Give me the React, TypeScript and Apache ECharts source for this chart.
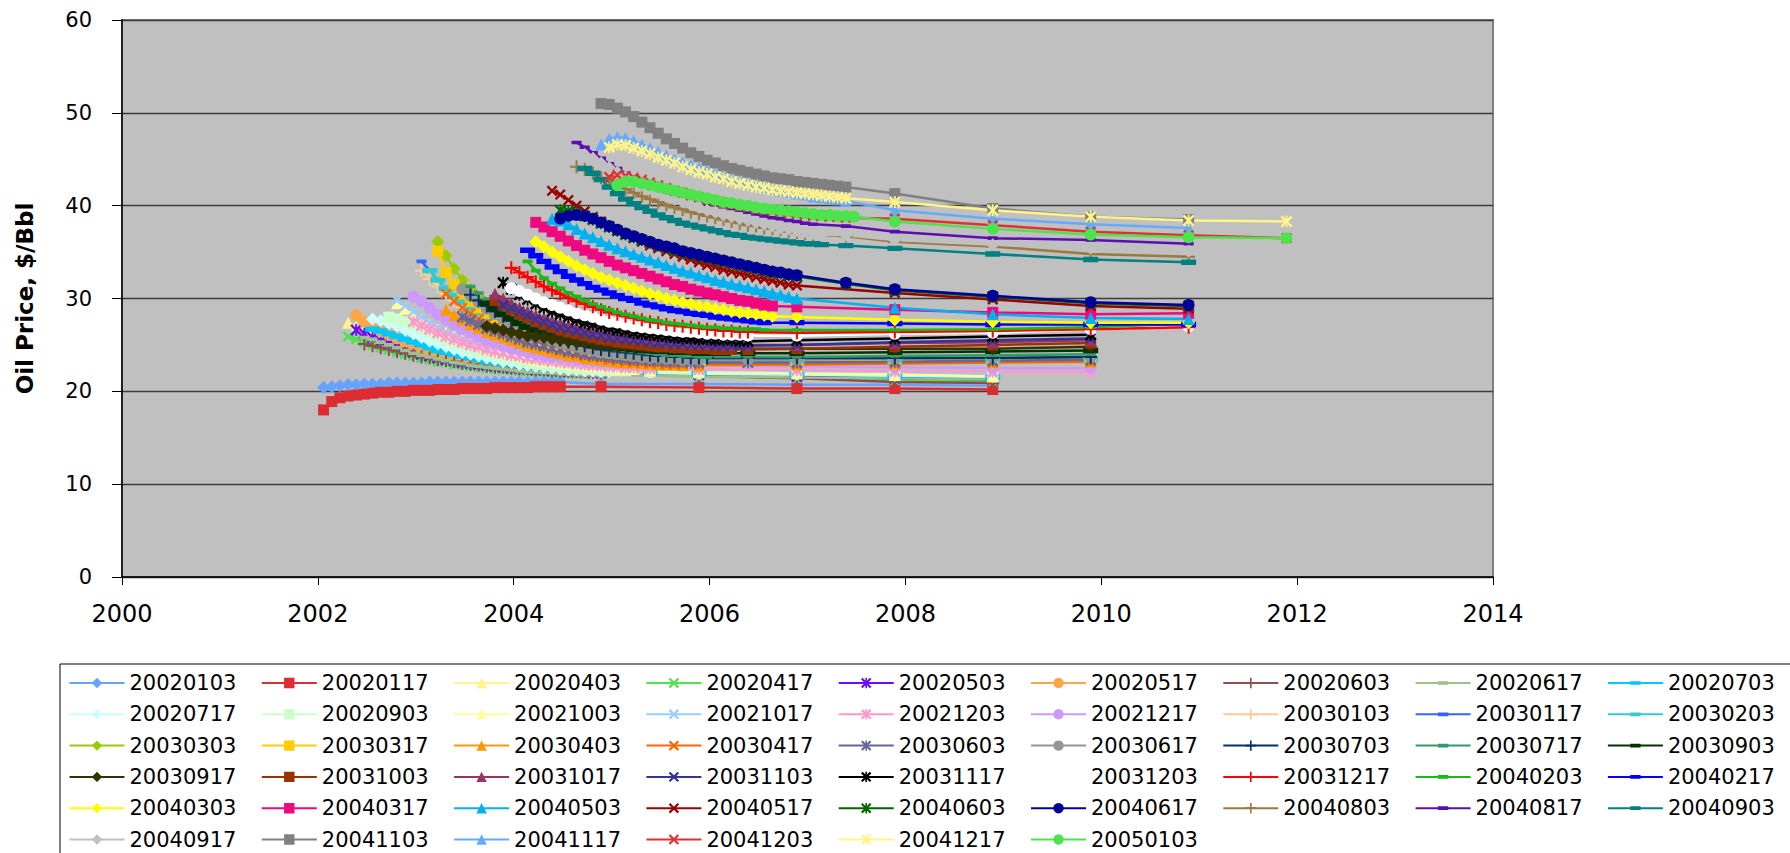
import React, { useEffect, useRef } from "react";
import * as echarts from "echarts";

// Trade dates of each NYMEX crude futures strip (legend order)
const tradeDates = [
  "20020103", "20020117", "20020403", "20020417", "20020503", "20020517", "20020603", "20020617", "20020703",
  "20020717", "20020903", "20021003", "20021017", "20021203", "20021217", "20030103", "20030117", "20030203",
  "20030303", "20030317", "20030403", "20030417", "20030603", "20030617", "20030703", "20030717", "20030903",
  "20030917", "20031003", "20031017", "20031103", "20031117", "20031203", "20031217", "20040203", "20040217",
  "20040303", "20040317", "20040503", "20040517", "20040603", "20040617", "20040803", "20040817", "20040903",
  "20040917", "20041103", "20041117", "20041203", "20041217", "20050103",
];

// 30 consecutive monthly settlements ($/Bbl), starting with the front month after the trade date
const c20020103 = [20.4, 20.5, 20.6, 20.7, 20.7, 20.8, 20.8, 20.8, 20.9, 20.9, 20.9, 20.9, 20.9, 21.0, 21.0, 21.0, 21.0, 21.0, 21.0, 21.0, 21.0, 21.0, 21.0, 21.0, 21.0, 21.0, 21.0, 21.0, 21.0, 21.0];
const c20020117 = [18.0, 18.9, 19.3, 19.5, 19.6, 19.7, 19.8, 19.9, 19.9, 20.0, 20.0, 20.1, 20.1, 20.1, 20.2, 20.2, 20.2, 20.3, 20.3, 20.3, 20.3, 20.4, 20.4, 20.4, 20.4, 20.4, 20.5, 20.5, 20.5, 20.5];
const c20020403 = [27.4, 27.0, 26.6, 26.2, 25.8, 25.5, 25.2, 24.9, 24.6, 24.4, 24.2, 24.0, 23.8, 23.6, 23.5, 23.3, 23.2, 23.1, 23.0, 22.9, 22.8, 22.7, 22.7, 22.6, 22.5, 22.5, 22.4, 22.4, 22.3, 22.3];
const c20020417 = [25.9, 25.6, 25.3, 25.0, 24.7, 24.5, 24.2, 24.0, 23.8, 23.6, 23.4, 23.2, 23.1, 22.9, 22.8, 22.7, 22.6, 22.5, 22.4, 22.3, 22.3, 22.2, 22.1, 22.1, 22.0, 22.0, 21.9, 21.9, 21.9, 21.8];
const c20020503 = [26.6, 26.2, 25.8, 25.4, 25.1, 24.8, 24.5, 24.2, 24.0, 23.8, 23.6, 23.4, 23.3, 23.1, 23.0, 22.9, 22.8, 22.7, 22.6, 22.5, 22.5, 22.4, 22.3, 22.3, 22.2, 22.2, 22.1, 22.1, 22.1, 22.0];
const c20020517 = [28.2, 27.5, 27.0, 26.5, 26.1, 25.7, 25.3, 25.0, 24.7, 24.4, 24.2, 24.0, 23.8, 23.6, 23.4, 23.3, 23.1, 23.0, 22.9, 22.8, 22.7, 22.6, 22.5, 22.5, 22.4, 22.3, 22.3, 22.2, 22.2, 22.2];
const c20020603 = [25.1, 24.9, 24.7, 24.5, 24.3, 24.1, 23.9, 23.7, 23.6, 23.4, 23.3, 23.2, 23.0, 22.9, 22.8, 22.7, 22.6, 22.6, 22.5, 22.4, 22.4, 22.3, 22.3, 22.2, 22.2, 22.2, 22.1, 22.1, 22.1, 22.0];
const c20020617 = [25.8, 25.6, 25.3, 25.0, 24.7, 24.4, 24.1, 23.9, 23.7, 23.5, 23.3, 23.1, 23.0, 22.8, 22.7, 22.6, 22.5, 22.4, 22.3, 22.2, 22.1, 22.1, 22.0, 22.0, 21.9, 21.9, 21.8, 21.8, 21.8, 21.7];
const c20020703 = [26.7, 26.5, 26.2, 25.9, 25.6, 25.3, 25.0, 24.7, 24.4, 24.2, 24.0, 23.8, 23.6, 23.4, 23.2, 23.1, 23.0, 22.9, 22.8, 22.7, 22.6, 22.5, 22.4, 22.4, 22.3, 22.3, 22.2, 22.2, 22.1, 22.1];
const c20020717 = [27.8, 27.6, 27.3, 27.0, 26.6, 26.2, 25.8, 25.4, 25.1, 24.8, 24.5, 24.2, 24.0, 23.8, 23.6, 23.4, 23.2, 23.1, 22.9, 22.8, 22.7, 22.6, 22.5, 22.4, 22.3, 22.3, 22.2, 22.2, 22.1, 22.1];
const c20020903 = [28.0, 27.8, 27.5, 27.1, 26.7, 26.3, 25.9, 25.5, 25.2, 24.9, 24.6, 24.3, 24.1, 23.9, 23.7, 23.5, 23.3, 23.2, 23.0, 22.9, 22.8, 22.7, 22.6, 22.5, 22.4, 22.4, 22.3, 22.3, 22.2, 22.2];
const c20021003 = [29.5, 28.9, 28.3, 27.7, 27.2, 26.7, 26.3, 25.9, 25.5, 25.2, 24.9, 24.6, 24.4, 24.2, 24.0, 23.8, 23.6, 23.4, 23.3, 23.2, 23.1, 23.0, 22.9, 22.8, 22.7, 22.7, 22.6, 22.5, 22.5, 22.4];
const c20021017 = [29.8, 29.2, 28.6, 28.0, 27.4, 26.9, 26.4, 26.0, 25.6, 25.3, 25.0, 24.7, 24.4, 24.2, 24.0, 23.8, 23.6, 23.5, 23.3, 23.2, 23.1, 23.0, 22.9, 22.8, 22.8, 22.7, 22.6, 22.6, 22.5, 22.5];
const c20021203 = [27.5, 27.1, 26.7, 26.3, 25.9, 25.6, 25.3, 25.0, 24.8, 24.5, 24.3, 24.1, 23.9, 23.8, 23.6, 23.5, 23.4, 23.3, 23.2, 23.1, 23.0, 22.9, 22.8, 22.8, 22.7, 22.7, 22.6, 22.6, 22.5, 22.5];
const c20021217 = [30.2, 29.7, 29.0, 28.3, 27.7, 27.2, 26.7, 26.3, 25.9, 25.5, 25.2, 24.9, 24.6, 24.4, 24.2, 24.0, 23.8, 23.7, 23.6, 23.5, 23.4, 23.3, 23.2, 23.1, 23.1, 23.0, 23.0, 22.9, 22.9, 22.8];
const c20030103 = [33.0, 32.1, 31.3, 30.5, 29.8, 29.1, 28.5, 28.0, 27.5, 27.0, 26.6, 26.2, 25.9, 25.6, 25.3, 25.0, 24.7, 24.5, 24.3, 24.1, 23.9, 23.7, 23.6, 23.5, 23.3, 23.2, 23.1, 23.0, 23.0, 22.9];
const c20030117 = [34.0, 33.0, 32.0, 31.1, 30.3, 29.6, 29.0, 28.4, 27.9, 27.4, 27.0, 26.6, 26.2, 25.9, 25.6, 25.3, 25.0, 24.8, 24.6, 24.4, 24.2, 24.0, 23.9, 23.7, 23.6, 23.5, 23.4, 23.3, 23.2, 23.2];
const c20030203 = [33.0, 32.0, 31.1, 30.3, 29.6, 29.0, 28.5, 28.0, 27.5, 27.1, 26.7, 26.4, 26.1, 25.8, 25.5, 25.3, 25.0, 24.8, 24.6, 24.4, 24.2, 24.1, 23.9, 23.8, 23.7, 23.6, 23.5, 23.4, 23.3, 23.3];
const c20030303 = [36.1, 34.6, 33.2, 32.0, 31.0, 30.1, 29.3, 28.6, 28.0, 27.5, 27.0, 26.6, 26.2, 25.9, 25.6, 25.3, 25.0, 24.8, 24.6, 24.4, 24.3, 24.1, 24.0, 23.9, 23.8, 23.7, 23.6, 23.6, 23.5, 23.5];
const c20030317 = [35.1, 32.8, 31.5, 30.5, 29.7, 29.0, 28.4, 27.9, 27.4, 27.0, 26.6, 26.3, 26.0, 25.7, 25.4, 25.2, 25.0, 24.8, 24.6, 24.4, 24.2, 24.1, 24.0, 23.9, 23.8, 23.7, 23.6, 23.6, 23.5, 23.5];
const c20030403 = [28.8, 28.2, 27.7, 27.2, 26.8, 26.4, 26.1, 25.8, 25.5, 25.2, 24.9, 24.7, 24.5, 24.3, 24.1, 23.9, 23.8, 23.6, 23.5, 23.4, 23.3, 23.2, 23.1, 23.1, 23.0, 23.0, 22.9, 22.9, 22.9, 22.8];
const c20030417 = [30.5, 29.7, 29.0, 28.4, 27.8, 27.3, 26.8, 26.4, 26.0, 25.7, 25.4, 25.1, 24.8, 24.6, 24.4, 24.2, 24.0, 23.8, 23.7, 23.6, 23.4, 23.3, 23.2, 23.1, 23.1, 23.0, 23.0, 22.9, 22.9, 22.9];
const c20030603 = [28.0, 27.6, 27.2, 26.8, 26.5, 26.2, 25.9, 25.6, 25.3, 25.1, 24.9, 24.7, 24.5, 24.3, 24.2, 24.0, 23.9, 23.8, 23.7, 23.6, 23.5, 23.4, 23.4, 23.3, 23.3, 23.2, 23.2, 23.2, 23.1, 23.1];
const c20030617 = [31.0, 30.3, 29.6, 28.9, 28.3, 27.8, 27.3, 26.9, 26.5, 26.1, 25.8, 25.5, 25.2, 25.0, 24.8, 24.6, 24.4, 24.2, 24.1, 24.0, 23.9, 23.8, 23.7, 23.6, 23.6, 23.5, 23.5, 23.4, 23.4, 23.4];
const c20030703 = [30.4, 29.8, 29.2, 28.6, 28.1, 27.6, 27.2, 26.8, 26.4, 26.1, 25.8, 25.5, 25.3, 25.1, 24.9, 24.7, 24.5, 24.4, 24.3, 24.2, 24.1, 24.0, 23.9, 23.8, 23.8, 23.7, 23.7, 23.6, 23.6, 23.6];
const c20030717 = [31.3, 30.6, 29.9, 29.2, 28.6, 28.1, 27.6, 27.2, 26.8, 26.5, 26.2, 25.9, 25.6, 25.4, 25.2, 25.0, 24.8, 24.7, 24.5, 24.4, 24.3, 24.2, 24.1, 24.0, 23.9, 23.9, 23.8, 23.8, 23.7, 23.7];
const c20030903 = [29.5, 28.9, 28.3, 27.8, 27.3, 26.9, 26.6, 26.3, 26.0, 25.8, 25.6, 25.4, 25.2, 25.0, 24.9, 24.8, 24.7, 24.6, 24.5, 24.4, 24.4, 24.3, 24.3, 24.2, 24.2, 24.2, 24.1, 24.1, 24.1, 24.1];
const c20030917 = [27.0, 26.8, 26.6, 26.4, 26.2, 26.0, 25.9, 25.8, 25.6, 25.5, 25.4, 25.3, 25.2, 25.1, 25.0, 25.0, 24.9, 24.9, 24.8, 24.8, 24.7, 24.7, 24.7, 24.6, 24.6, 24.6, 24.6, 24.6, 24.6, 24.6];
const c20031003 = [29.8, 29.3, 28.8, 28.3, 27.9, 27.5, 27.2, 26.9, 26.6, 26.4, 26.2, 26.0, 25.8, 25.6, 25.5, 25.3, 25.2, 25.1, 25.0, 24.9, 24.8, 24.8, 24.7, 24.7, 24.6, 24.6, 24.6, 24.5, 24.5, 24.5];
const c20031017 = [30.5, 30.0, 29.5, 29.0, 28.6, 28.2, 27.9, 27.6, 27.3, 27.1, 26.9, 26.7, 26.5, 26.3, 26.2, 26.0, 25.9, 25.8, 25.7, 25.6, 25.5, 25.4, 25.3, 25.3, 25.2, 25.2, 25.1, 25.1, 25.1, 25.0];
const c20031103 = [29.3, 29.0, 28.6, 28.2, 27.8, 27.5, 27.2, 26.9, 26.7, 26.5, 26.3, 26.1, 26.0, 25.8, 25.7, 25.6, 25.5, 25.4, 25.3, 25.2, 25.2, 25.1, 25.1, 25.0, 25.0, 25.0, 24.9, 24.9, 24.9, 24.9];
const c20031117 = [31.7, 31.0, 30.4, 29.9, 29.4, 29.0, 28.6, 28.3, 28.0, 27.7, 27.4, 27.2, 27.0, 26.8, 26.6, 26.5, 26.3, 26.2, 26.1, 26.0, 25.9, 25.8, 25.7, 25.7, 25.6, 25.6, 25.5, 25.5, 25.5, 25.4];
const c20031203 = [31.1, 30.8, 30.4, 30.0, 29.6, 29.3, 29.0, 28.7, 28.4, 28.2, 28.0, 27.7, 27.5, 27.4, 27.2, 27.0, 26.9, 26.8, 26.7, 26.6, 26.5, 26.4, 26.4, 26.3, 26.2, 26.2, 26.1, 26.1, 26.1, 26.0];
const c20031217 = [33.3, 32.8, 32.3, 31.8, 31.3, 30.9, 30.5, 30.1, 29.7, 29.4, 29.1, 28.8, 28.5, 28.3, 28.1, 27.9, 27.7, 27.5, 27.4, 27.2, 27.1, 27.0, 26.9, 26.8, 26.7, 26.6, 26.5, 26.5, 26.4, 26.4];
const c20040203 = [34.0, 33.0, 32.2, 31.6, 31.1, 30.6, 30.2, 29.8, 29.4, 29.1, 28.8, 28.5, 28.3, 28.1, 27.9, 27.7, 27.6, 27.4, 27.3, 27.2, 27.1, 27.0, 26.9, 26.9, 26.8, 26.8, 26.7, 26.7, 26.7, 26.6];
const c20040217 = [35.2, 34.6, 34.0, 33.4, 32.9, 32.4, 32.0, 31.6, 31.2, 30.9, 30.6, 30.3, 30.0, 29.8, 29.5, 29.3, 29.1, 28.9, 28.7, 28.6, 28.4, 28.3, 28.2, 28.0, 27.9, 27.8, 27.7, 27.6, 27.5, 27.4];
const c20040303 = [36.1, 35.6, 35.0, 34.5, 34.0, 33.5, 33.1, 32.7, 32.3, 32.0, 31.7, 31.4, 31.1, 30.8, 30.5, 30.3, 30.0, 29.8, 29.6, 29.4, 29.2, 29.1, 28.9, 28.8, 28.6, 28.5, 28.4, 28.3, 28.2, 28.1];
const c20040317 = [38.2, 37.7, 37.2, 36.7, 36.2, 35.7, 35.2, 34.8, 34.4, 34.0, 33.6, 33.3, 33.0, 32.7, 32.4, 32.1, 31.8, 31.5, 31.3, 31.0, 30.8, 30.6, 30.4, 30.2, 30.0, 29.8, 29.7, 29.5, 29.3, 29.2];
const c20040503 = [38.6, 38.4, 38.0, 37.5, 37.0, 36.6, 36.2, 35.8, 35.4, 35.1, 34.8, 34.5, 34.2, 33.9, 33.6, 33.3, 33.0, 32.8, 32.5, 32.3, 32.0, 31.8, 31.6, 31.4, 31.2, 31.0, 30.8, 30.6, 30.4, 30.2];
const c20040517 = [41.6, 41.2, 40.6, 40.0, 39.4, 38.8, 38.3, 37.8, 37.3, 36.9, 36.5, 36.1, 35.7, 35.4, 35.1, 34.8, 34.5, 34.2, 33.9, 33.6, 33.4, 33.1, 32.9, 32.7, 32.5, 32.3, 32.1, 31.9, 31.7, 31.5];
const c20040603 = [39.5, 39.4, 39.2, 38.9, 38.5, 38.1, 37.7, 37.3, 36.9, 36.6, 36.3, 36.0, 35.7, 35.5, 35.2, 35.0, 34.8, 34.6, 34.4, 34.2, 34.0, 33.8, 33.6, 33.4, 33.2, 33.0, 32.8, 32.7, 32.5, 32.4];
const c20040617 = [38.6, 38.9, 39.0, 38.9, 38.6, 38.2, 37.8, 37.4, 37.0, 36.7, 36.4, 36.1, 35.8, 35.6, 35.4, 35.1, 34.9, 34.7, 34.5, 34.3, 34.1, 33.9, 33.7, 33.5, 33.3, 33.1, 32.9, 32.8, 32.6, 32.5];
const c20040803 = [44.2, 43.9, 43.5, 43.0, 42.6, 42.2, 41.8, 41.4, 41.0, 40.7, 40.4, 40.1, 39.8, 39.6, 39.3, 39.1, 38.9, 38.7, 38.5, 38.3, 38.1, 37.9, 37.8, 37.6, 37.5, 37.4, 37.2, 37.1, 37.0, 36.9];
const c20040817 = [46.8, 46.3, 45.7, 45.1, 44.5, 44.0, 43.5, 43.1, 42.7, 42.3, 42.0, 41.7, 41.4, 41.1, 40.8, 40.6, 40.3, 40.1, 39.9, 39.7, 39.5, 39.3, 39.1, 38.9, 38.7, 38.6, 38.4, 38.3, 38.1, 38.0];
const c20040903 = [44.0, 43.5, 42.8, 42.0, 41.3, 40.7, 40.2, 39.8, 39.4, 39.0, 38.7, 38.4, 38.1, 37.9, 37.7, 37.5, 37.3, 37.1, 36.9, 36.8, 36.6, 36.5, 36.4, 36.3, 36.2, 36.1, 36.0, 35.9, 35.9, 35.8];
const c20040917 = [45.5, 45.1, 44.6, 44.1, 43.6, 43.1, 42.6, 42.2, 41.8, 41.4, 41.0, 40.7, 40.4, 40.1, 39.8, 39.5, 39.3, 39.0, 38.8, 38.6, 38.4, 38.2, 38.0, 37.8, 37.6, 37.5, 37.3, 37.2, 37.0, 36.9];
const c20041103 = [51.0, 50.9, 50.5, 50.1, 49.6, 49.0, 48.4, 47.8, 47.2, 46.7, 46.2, 45.7, 45.3, 44.9, 44.6, 44.3, 44.0, 43.8, 43.6, 43.4, 43.2, 43.0, 42.9, 42.8, 42.6, 42.5, 42.4, 42.3, 42.2, 42.1];
const c20041117 = [46.6, 47.2, 47.4, 47.3, 47.0, 46.6, 46.2, 45.8, 45.4, 45.0, 44.7, 44.4, 44.1, 43.8, 43.5, 43.2, 42.9, 42.7, 42.4, 42.2, 42.0, 41.8, 41.6, 41.5, 41.3, 41.2, 41.0, 40.9, 40.8, 40.7];
const c20041203 = [43.1, 43.3, 43.2, 43.0, 42.8, 42.5, 42.2, 41.9, 41.6, 41.4, 41.1, 40.9, 40.7, 40.5, 40.3, 40.1, 39.9, 39.8, 39.6, 39.5, 39.4, 39.3, 39.2, 39.1, 39.0, 38.9, 38.9, 38.8, 38.8, 38.7];
const c20041217 = [46.3, 46.6, 46.5, 46.2, 45.9, 45.6, 45.2, 44.9, 44.6, 44.2, 43.9, 43.6, 43.4, 43.1, 42.9, 42.6, 42.4, 42.2, 42.0, 41.9, 41.7, 41.6, 41.5, 41.4, 41.3, 41.2, 41.1, 41.0, 40.9, 40.8];
const c20050103 = [42.2, 42.6, 42.6, 42.4, 42.2, 42.0, 41.8, 41.6, 41.4, 41.2, 41.0, 40.8, 40.6, 40.4, 40.3, 40.1, 40.0, 39.8, 39.7, 39.6, 39.5, 39.4, 39.3, 39.2, 39.1, 39.0, 39.0, 38.9, 38.9, 38.8];

// Long-dated June / December contracts: [delivery month, settlement]
type Contract = [string, number];
const d20020103: Contract[] = [["2004-12", 20.8], ["2005-12", 20.8], ["2006-12", 20.7], ["2007-12", 20.7], ["2008-12", 20.6]];
const d20020117: Contract[] = [["2004-12", 20.5], ["2005-12", 20.4], ["2006-12", 20.3], ["2007-12", 20.3], ["2008-12", 20.2]];
const d20020403: Contract[] = [["2004-12", 22.2], ["2005-12", 22.0], ["2006-12", 21.8], ["2007-12", 21.6], ["2008-12", 21.5]];
const d20020417: Contract[] = [["2004-12", 21.8], ["2005-12", 21.6], ["2006-12", 21.4], ["2007-12", 21.2], ["2008-12", 21.1]];
const d20020503: Contract[] = [["2004-12", 22.0], ["2005-12", 21.8], ["2006-12", 21.6], ["2007-12", 21.4], ["2008-12", 21.3]];
const d20020517: Contract[] = [["2004-12", 22.1], ["2005-12", 21.9], ["2006-12", 21.8], ["2007-12", 21.7], ["2008-12", 21.6]];
const d20020603: Contract[] = [["2005-06", 22.0], ["2005-12", 21.7], ["2006-12", 21.4], ["2007-12", 21.0], ["2008-12", 20.9]];
const d20020617: Contract[] = [["2005-06", 21.7], ["2005-12", 21.6], ["2006-12", 21.5], ["2007-12", 21.4], ["2008-12", 21.3]];
const d20020703: Contract[] = [["2005-06", 22.0], ["2005-12", 21.9], ["2006-12", 21.8], ["2007-12", 21.6], ["2008-12", 21.5]];
const d20020717: Contract[] = [["2005-06", 22.0], ["2005-12", 21.9], ["2006-12", 21.8], ["2007-12", 21.7], ["2008-12", 21.6]];
const d20020903: Contract[] = [["2005-06", 22.1], ["2005-12", 22.0], ["2006-12", 21.9], ["2007-12", 21.7], ["2008-12", 21.6]];
const d20021003: Contract[] = [["2005-06", 22.3], ["2005-12", 22.2], ["2006-12", 22.0], ["2007-12", 21.8], ["2008-12", 21.6]];
const d20021017: Contract[] = [["2005-06", 22.4], ["2005-12", 22.3], ["2006-12", 22.2], ["2007-12", 22.1], ["2008-12", 22.0]];
const d20021203: Contract[] = [["2005-12", 22.4], ["2006-12", 22.3], ["2007-12", 22.2], ["2008-12", 22.1], ["2009-12", 22.1]];
const d20021217: Contract[] = [["2005-12", 22.8], ["2006-12", 22.7], ["2007-12", 22.6], ["2008-12", 22.5], ["2009-12", 22.5]];
const d20030103: Contract[] = [["2005-12", 22.9], ["2006-12", 22.9], ["2007-12", 23.0], ["2008-12", 23.1], ["2009-12", 23.2]];
const d20030117: Contract[] = [["2005-12", 23.1], ["2006-12", 23.1], ["2007-12", 23.2], ["2008-12", 23.3], ["2009-12", 23.4]];
const d20030203: Contract[] = [["2005-12", 23.2], ["2006-12", 23.2], ["2007-12", 23.2], ["2008-12", 23.3], ["2009-12", 23.4]];
const d20030303: Contract[] = [["2005-12", 23.5], ["2006-12", 23.5], ["2007-12", 23.5], ["2008-12", 23.6], ["2009-12", 23.7]];
const d20030317: Contract[] = [["2005-12", 23.5], ["2006-12", 23.4], ["2007-12", 23.4], ["2008-12", 23.4], ["2009-12", 23.4]];
const d20030403: Contract[] = [["2005-12", 22.8], ["2006-12", 22.9], ["2007-12", 23.0], ["2008-12", 23.1], ["2009-12", 23.2]];
const d20030417: Contract[] = [["2005-12", 22.9], ["2006-12", 22.9], ["2007-12", 23.0], ["2008-12", 23.1], ["2009-12", 23.2]];
const d20030603: Contract[] = [["2006-06", 23.1], ["2006-12", 23.1], ["2007-12", 23.2], ["2008-12", 23.3], ["2009-12", 23.4]];
const d20030617: Contract[] = [["2006-06", 23.4], ["2006-12", 23.4], ["2007-12", 23.5], ["2008-12", 23.6], ["2009-12", 23.7]];
const d20030703: Contract[] = [["2006-06", 23.6], ["2006-12", 23.6], ["2007-12", 23.6], ["2008-12", 23.6], ["2009-12", 23.7]];
const d20030717: Contract[] = [["2006-06", 23.7], ["2006-12", 23.7], ["2007-12", 23.8], ["2008-12", 23.9], ["2009-12", 24.0]];
const d20030903: Contract[] = [["2006-06", 24.1], ["2006-12", 24.1], ["2007-12", 24.2], ["2008-12", 24.3], ["2009-12", 24.4]];
const d20030917: Contract[] = [["2006-06", 24.6], ["2006-12", 24.6], ["2007-12", 24.6], ["2008-12", 24.6], ["2009-12", 24.8]];
const d20031003: Contract[] = [["2006-06", 24.5], ["2006-12", 24.6], ["2007-12", 24.8], ["2008-12", 25.0], ["2009-12", 25.2]];
const d20031017: Contract[] = [["2006-06", 25.0], ["2006-12", 25.0], ["2007-12", 25.2], ["2008-12", 25.3], ["2009-12", 25.5]];
const d20031103: Contract[] = [["2006-06", 24.9], ["2006-12", 25.0], ["2007-12", 25.3], ["2008-12", 25.5], ["2009-12", 25.7]];
const d20031117: Contract[] = [["2006-06", 25.4], ["2006-12", 25.5], ["2007-12", 25.7], ["2008-12", 25.9], ["2009-12", 26.1]];
const d20031203: Contract[] = [["2006-12", 26.0], ["2007-12", 26.2], ["2008-12", 26.3], ["2009-12", 26.7], ["2010-12", 27.0]];
const d20031217: Contract[] = [["2006-12", 26.3], ["2007-12", 26.4], ["2008-12", 26.5], ["2009-12", 26.7], ["2010-12", 26.9]];
const d20040203: Contract[] = [["2006-12", 26.6], ["2007-12", 26.6], ["2008-12", 26.7], ["2009-12", 26.9], ["2010-12", 27.3]];
const d20040217: Contract[] = [["2006-12", 27.4], ["2007-12", 27.3], ["2008-12", 27.2], ["2009-12", 27.2], ["2010-12", 27.2]];
const d20040303: Contract[] = [["2006-12", 28.0], ["2007-12", 27.7], ["2008-12", 27.5], ["2009-12", 27.4], ["2010-12", 27.4]];
const d20040317: Contract[] = [["2006-12", 29.1], ["2007-12", 28.8], ["2008-12", 28.5], ["2009-12", 28.3], ["2010-12", 28.4]];
const d20040503: Contract[] = [["2006-12", 30.0], ["2007-12", 29.0], ["2008-12", 28.3], ["2009-12", 27.9], ["2010-12", 27.8]];
const d20040517: Contract[] = [["2006-12", 31.4], ["2007-12", 30.6], ["2008-12", 29.9], ["2009-12", 29.2], ["2010-12", 28.9]];
const d20040603: Contract[] = [["2007-06", 31.6], ["2007-12", 30.9], ["2008-12", 30.2], ["2009-12", 29.5], ["2010-12", 29.2]];
const d20040617: Contract[] = [["2007-06", 31.7], ["2007-12", 31.0], ["2008-12", 30.3], ["2009-12", 29.6], ["2010-12", 29.3]];
const d20040803: Contract[] = [["2007-06", 36.7], ["2007-12", 36.1], ["2008-12", 35.6], ["2009-12", 34.8], ["2010-12", 34.5]];
const d20040817: Contract[] = [["2007-06", 37.8], ["2007-12", 37.2], ["2008-12", 36.5], ["2009-12", 36.3], ["2010-12", 35.9]];
const d20040903: Contract[] = [["2007-06", 35.7], ["2007-12", 35.4], ["2008-12", 34.8], ["2009-12", 34.2], ["2010-12", 33.9]];
const d20040917: Contract[] = [["2007-06", 36.8], ["2007-12", 36.3], ["2008-12", 35.8], ["2009-12", 35.4], ["2010-12", 35.1]];
const d20041103: Contract[] = [["2007-06", 42.0], ["2007-12", 41.3], ["2008-12", 39.7], ["2009-12", 38.8], ["2010-12", 38.5]];
const d20041117: Contract[] = [["2007-06", 40.5], ["2007-12", 39.5], ["2008-12", 38.6], ["2009-12", 38.0], ["2010-12", 37.6]];
const d20041203: Contract[] = [["2007-12", 38.6], ["2008-12", 37.9], ["2009-12", 37.2], ["2010-12", 36.8], ["2011-12", 36.5]];
const d20041217: Contract[] = [["2007-12", 40.4], ["2008-12", 39.5], ["2009-12", 38.8], ["2010-12", 38.4], ["2011-12", 38.3]];
const d20050103: Contract[] = [["2007-12", 38.3], ["2008-12", 37.5], ["2009-12", 36.9], ["2010-12", 36.6], ["2011-12", 36.5]];

const monthlyCurves = [
  c20020103, c20020117, c20020403, c20020417, c20020503, c20020517, c20020603, c20020617, c20020703,
  c20020717, c20020903, c20021003, c20021017, c20021203, c20021217, c20030103, c20030117, c20030203,
  c20030303, c20030317, c20030403, c20030417, c20030603, c20030617, c20030703, c20030717, c20030903,
  c20030917, c20031003, c20031017, c20031103, c20031117, c20031203, c20031217, c20040203, c20040217,
  c20040303, c20040317, c20040503, c20040517, c20040603, c20040617, c20040803, c20040817, c20040903,
  c20040917, c20041103, c20041117, c20041203, c20041217, c20050103,
];
const longDated = [
  d20020103, d20020117, d20020403, d20020417, d20020503, d20020517, d20020603, d20020617, d20020703,
  d20020717, d20020903, d20021003, d20021017, d20021203, d20021217, d20030103, d20030117, d20030203,
  d20030303, d20030317, d20030403, d20030417, d20030603, d20030617, d20030703, d20030717, d20030903,
  d20030917, d20031003, d20031017, d20031103, d20031117, d20031203, d20031217, d20040203, d20040217,
  d20040303, d20040317, d20040503, d20040517, d20040603, d20040617, d20040803, d20040817, d20040903,
  d20040917, d20041103, d20041117, d20041203, d20041217, d20050103,
];

const lineColors = [
  "#66A3FF", "#DD2D32", "#FFF38A", "#4DE34D", "#6A0DFF", "#FFA646", "#8C4F4F", "#A0BF8C", "#00C8FF",
  "#CCFFFF", "#CCFFCC", "#FFFF99", "#99CCFF", "#FF99CC", "#CC99FF", "#FFCC99", "#3366FF", "#33CCCC",
  "#99CC00", "#FFCC00", "#FF9900", "#FF6600", "#666699", "#969696", "#003366", "#339966", "#003300",
  "#333300", "#993300", "#993366", "#333399", "#000000", "#FFFFFF", "#FF0000", "#19B919", "#0000FF",
  "#FFFF00", "#F0087F", "#00B0F0", "#990000", "#006600", "#000099", "#997A40", "#5A0FAF", "#008080",
  "#C0C0C0", "#808080", "#66AAFF", "#E03030", "#FFF38A", "#4DE34D",
];

const X_PATH = "path://M0,1.5L1.5,0L5,3.5L8.5,0L10,1.5L6.5,5L10,8.5L8.5,10L5,6.5L1.5,10L0,8.5L3.5,5Z";
const STAR_PATH =
  "path://M0,1.5L1.5,0L5,3.5L8.5,0L10,1.5L6.5,5L10,8.5L8.5,10L5,6.5L1.5,10L0,8.5L3.5,5Z M4.25,0L5.75,0L5.75,10L4.25,10Z";
const PLUS_PATH = "path://M4.2,0L5.8,0L5.8,4.2L10,4.2L10,5.8L5.8,5.8L5.8,10L4.2,10L4.2,5.8L0,5.8L0,4.2L4.2,4.2Z";
// flat bar inside a square box (the empty sub-paths only fix the box)
const DASH_PATH = "path://M0,0L10,0 M0,3.2L10,3.2L10,6.8L0,6.8Z M0,10L10,10";

// Marker cycle: diamond, square, triangle, x, star, circle, plus, short dash, long dash
const markerCycle = [
  { symbol: "diamond", size: 13 },
  { symbol: "rect", size: 11 },
  { symbol: "triangle", size: 12 },
  { symbol: X_PATH, size: 11 },
  { symbol: STAR_PATH, size: 12 },
  { symbol: "circle", size: 12 },
  { symbol: PLUS_PATH, size: 13 },
  { symbol: DASH_PATH, size: 10 },
  { symbol: DASH_PATH, size: 15 },
];

// Position of a delivery month on the year axis (contract expiry, a few weeks before delivery)
const expiryYear = (year: number, month: number) => year + (month - 1.3) / 12;

function curvePoints(i: number): number[][] {
  const trade = tradeDates[i];
  const tradeYear = Number(trade.slice(0, 4));
  const tradeMonth = Number(trade.slice(4, 6));
  const pts: number[][] = [];
  monthlyCurves[i].forEach((price, k) => {
    const idx = tradeMonth + k; // front month = trade month + 1
    const y = tradeYear + Math.floor(idx / 12);
    const m = (idx % 12) + 1;
    pts.push([expiryYear(y, m), price]);
  });
  longDated[i].forEach(([contract, price]) => {
    const [y, m] = contract.split("-").map(Number);
    pts.push([expiryYear(y, m), price]);
  });
  return pts;
}

const FONT = "DejaVu Sans";

export default function App() {
  const ref = useRef<HTMLDivElement>(null);

  useEffect(() => {
    if (!ref.current) return;
    const chart = echarts.init(ref.current, null, { renderer: "svg" });

    const series = tradeDates.map((name, i) => {
      const mk = markerCycle[i % markerCycle.length];
      return {
        type: "line",
        name,
        data: curvePoints(i),
        symbol: mk.symbol,
        symbolSize: mk.size,
        symbolKeepAspect: true,
        showSymbol: true,
        lineStyle: { color: lineColors[i], width: 2.5 },
        itemStyle: { color: lineColors[i], borderWidth: 0 },
        emphasis: { disabled: true },
        animation: false,
      };
    });

    chart.setOption({
      animation: false,
      textStyle: { fontFamily: FONT, color: "#000" },
      grid: {
        left: 122,
        top: 20,
        right: 297,
        bottom: 276,
        show: true,
        backgroundColor: "#C0C0C0",
        borderColor: "#808080",
        borderWidth: 2,
      },
      xAxis: {
        type: "value",
        min: 2000,
        max: 2014,
        interval: 2,
        splitLine: { show: false },
        axisLine: { show: true, onZero: false, lineStyle: { color: "#000", width: 1.5 } },
        axisTick: { show: true, length: 8, lineStyle: { color: "#000", width: 1 } },
        axisLabel: {
          formatter: (v: number) => String(v),
          fontFamily: FONT,
          fontSize: 24,
          color: "#000",
          margin: 25,
        },
      },
      yAxis: {
        type: "value",
        min: 0,
        max: 60,
        interval: 10,
        name: "Oil Price, $/Bbl",
        nameLocation: "middle",
        nameRotate: 90,
        nameGap: 86,
        nameTextStyle: { fontFamily: FONT, fontWeight: "bold", fontSize: 23, color: "#000" },
        splitLine: { show: true, lineStyle: { color: "#3c3c3c", width: 1.3 } },
        axisLine: { show: true, lineStyle: { color: "#000", width: 1.5 } },
        axisTick: { show: true, length: 10, lineStyle: { color: "#000", width: 1 } },
        axisLabel: { fontFamily: FONT, fontSize: 21, color: "#000", margin: 30 },
      },
      legend: {
        data: tradeDates,
        left: 60,
        top: 664,
        width: 1725,
        orient: "horizontal",
        padding: [8.5, 8, 12, 8.5],
        borderColor: "#000",
        borderWidth: 1,
        itemWidth: 55,
        itemHeight: 13,
        itemGap: 10.3,
        selectedMode: false,
        symbolKeepAspect: true,
        textStyle: { fontFamily: FONT, fontSize: 21, color: "#000", width: 121, lineHeight: 21 },
      },
      series,
    });

    return () => chart.dispose();
  }, []);

  return (
    <div
      ref={ref}
      style={{ position: "fixed", left: 0, top: 0, width: 1790, height: 853, background: "#fff" }}
    />
  );
}
